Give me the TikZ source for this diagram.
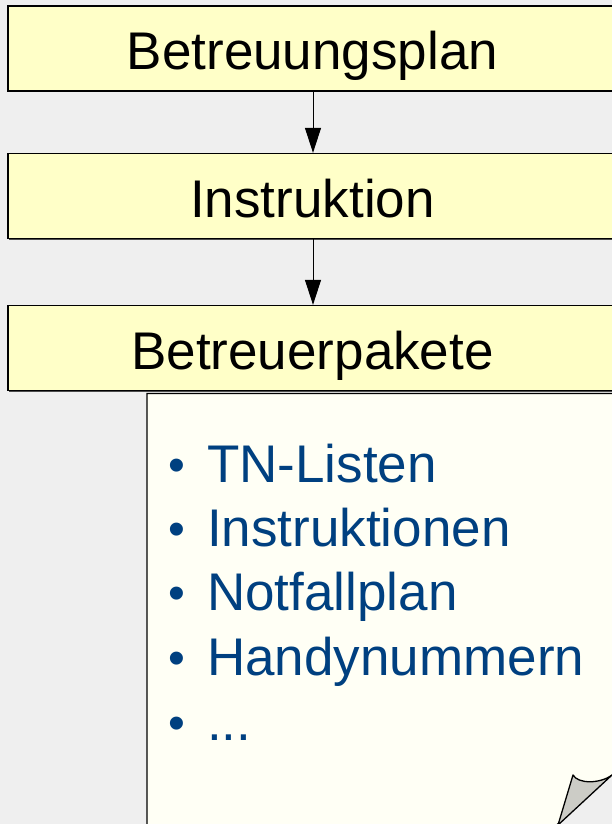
\documentclass[tikz,border=0pt]{standalone}
\usepackage{fontspec}
\setmainfont{Liberation Sans}
\usetikzlibrary{arrows.meta,shadows}
\definecolor{bg}{RGB}{239,239,239}
\definecolor{boxfill}{RGB}{255,255,200}
\definecolor{notefill}{RGB}{255,255,245}
\definecolor{itemblue}{RGB}{0,64,128}
\definecolor{foldgray}{RGB}{204,204,198}
\tikzset{
  stagebox/.style={draw=black, line width=1.3pt, fill=boxfill, minimum width=609pt, minimum height=85pt,
    inner sep=0pt, text height=43pt, text depth=0pt, font=\fontsize{53}{60}\selectfont,
    drop shadow={shadow xshift=1.2pt, shadow yshift=-1.2pt, fill=black!70, opacity=1}},
  flowarrow/.style={draw=black, line width=1pt, -{Triangle[length=25pt,width=16pt]}},
  itemtext/.style={anchor=base west, inner sep=0pt, text=itemblue, font=\fontsize{53}{60}\selectfont},
  bulletmark/.style={anchor=base west, inner sep=0pt, text=itemblue, font=\fontsize{48}{60}\selectfont}
}
\begin{document}
\begin{tikzpicture}[x=1pt,y=-1pt]
\useasboundingbox (0,0) rectangle (612,824);
\clip (0,0) rectangle (612,824);
\fill[bg] (0,0) rectangle (612,824);
% stage boxes
\node[stagebox] (plan) at (312.5,48.5) {Betreuungsplan};
\node[stagebox] (instr) at (312.5,196) {Instruktion};
\node[stagebox] (pakete) at (312.5,348) {Betreuerpakete};
\draw[flowarrow] (plan.south -| 313,0) -- (instr.north -| 313,0);
\draw[flowarrow] (instr.south -| 313,0) -- (pakete.north -| 313,0);
% note
\path[fill=notefill, draw=black, line width=1.3pt]
  (147,830) -- (147,393.5) -- (620,393.5) -- (620,768) -- (551,830) -- cycle;
\path[fill=bg] (612.5,774.5) -- (557,826) -- (620,826) -- cycle;
\draw[fill=foldgray, line width=1.3pt, line join=round]
  (558,825) -- (573,775) .. controls (578,784) and (600,784) .. (612,775) -- cycle;
% items
\node[bulletmark] (b1) at (168,481) {•};
\node[itemtext] (t1) at (207,482) {TN-Listen};
\node[bulletmark] (b2) at (168,545) {•};
\node[itemtext] (t2) at (207,546) {Instruktionen};
\node[bulletmark] (b3) at (168,609) {•};
\node[itemtext] (t3) at (207,610) {Notfallplan};
\node[bulletmark] (b4) at (168,674) {•};
\node[itemtext] (t4) at (207,675) {Handynummern};
\node[bulletmark] (b5) at (168,739) {•};
\node[itemtext] (t5) at (207,740) {...};
\end{tikzpicture}
\end{document}
